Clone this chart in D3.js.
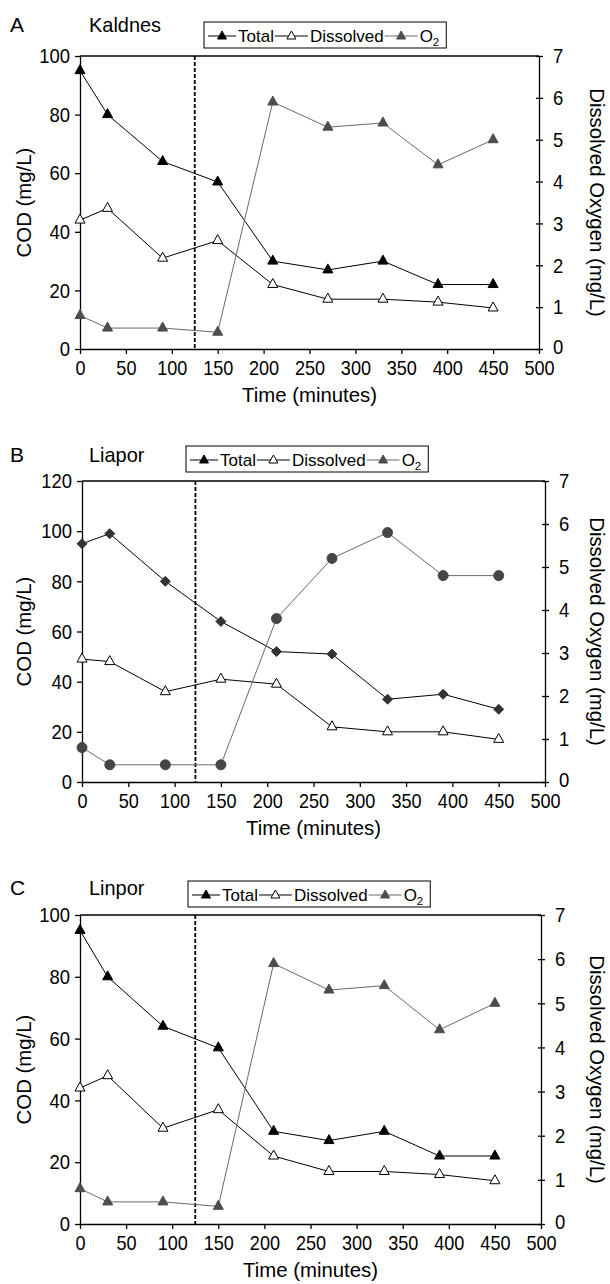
<!DOCTYPE html>
<html>
<head>
<meta charset="utf-8">
<script src="https://cdn.jsdelivr.net/npm/d3@7"></script>
<style>
body { margin: 0; background: #fff; }
svg { display: block; font-family: "Liberation Sans", Arial, sans-serif; }
.axis path, .axis line { stroke: #000; stroke-width: 1.3px; }
.axis text { font-size: 21px; fill: #000; }
</style>
</head>
<body>
<svg id="chart" width="610" height="1284"></svg>
<script>
// sampling times (minutes)
var time = [0, 30, 90, 150, 210, 270, 330, 390, 450];

// A - Kaldnes
var kaldnesTotal = [95, 80, 64, 57, 30, 27, 30, 22, 22];
var kaldnesDissolved = [44, 48, 31, 37, 22, 17, 17, 16, 14];
var kaldnesO2 = [0.8, 0.5, 0.5, 0.4, 5.9, 5.3, 5.4, 4.4, 5.0];

// B - Liapor
var liaporTotal = [95, 99, 80, 64, 52, 51, 33, 35, 29];
var liaporDissolved = [49, 48, 36, 41, 39, 22, 20, 20, 17];
var liaporO2 = [0.8, 0.4, 0.4, 0.4, 3.8, 5.2, 5.8, 4.8, 4.8];

// C - Linpor
var linporTotal = [95, 80, 64, 57, 30, 27, 30, 22, 22];
var linporDissolved = [44, 48, 31, 37, 22, 17, 17, 16, 14];
var linporO2 = [0.8, 0.5, 0.5, 0.4, 5.9, 5.3, 5.4, 4.4, 5.0];

var panelLetters = ["A", "B", "C"];
var panelNames = ["Kaldnes", "Liapor", "Linpor"];
var switchTimes = [125, 122.5, 125];
var codMax = [100, 120, 100];
var timeTicks = [0, 50, 100, 150, 200, 250, 300, 350, 400, 450, 500];
var oxygenTicks = [0, 1, 2, 3, 4, 5, 6, 7];
var legendLabels = ["Total", "Dissolved", "O"];

var panelData = [
  [kaldnesTotal, kaldnesDissolved, kaldnesO2],
  [liaporTotal, liaporDissolved, liaporO2],
  [linporTotal, linporDissolved, linporO2]
];

// geometry + marker styles
var layout = [
  {top: 56, bottom: 349, left: 80, right: 539, titleY: 32, legendX: 204, legendY: 22, marks: ["tri", "tri", "tri"]},
  {top: 481, bottom: 782, left: 82, right: 545, titleY: 462, legendX: 186, legendY: 446, marks: ["diamond", "tri", "circle"]},
  {top: 915, bottom: 1224, left: 80, right: 541, titleY: 895, legendX: 188, legendY: 881, marks: ["tri", "tri", "tri"]}
];

var seriesStyle = [
  {line: "#000", fill: "#000", stroke: "#000"},
  {line: "#000", fill: "#fff", stroke: "#000"},
  {line: "#6a6a6a", fill: "#4d4d4d", stroke: "#4d4d4d"}
];

var shapes = {
  tri: "M0,-6L5,3L-5,3Z",
  diamond: "M0,-5L5,0L0,5L-5,0Z",
  circle: "M5,0A5,5 0 1,1 -5,0A5,5 0 1,1 5,0Z",
  legendTri: "M0,-5L4.5,3L-4.5,3Z"
};

// the original type is a little narrower than Arial
function squeeze(sel, k) {
  sel.each(function () {
    var w = this.getComputedTextLength();
    d3.select(this).attr("textLength", w * k).attr("lengthAdjust", "spacingAndGlyphs");
  });
}

var svg = d3.select("#chart");

panelData.forEach(function (series, p) {
  var L = layout[p];
  var g = svg.append("g");

  var x = d3.scaleLinear().domain([0, 500]).range([L.left, L.right]);
  var yL = d3.scaleLinear().domain([0, codMax[p]]).range([L.bottom, L.top]);
  var yR = d3.scaleLinear().domain([0, 7]).range([L.bottom, L.top]);

  // top frame line
  g.append("line")
      .attr("x1", L.left).attr("x2", L.right)
      .attr("y1", L.top).attr("y2", L.top)
      .attr("stroke", "#000").attr("stroke-width", 1.3);

  var bottom = g.append("g").attr("class", "axis")
      .attr("transform", "translate(0," + L.bottom + ")")
      .call(d3.axisBottom(x).tickValues(timeTicks).tickSize(5).tickPadding(6).tickSizeOuter(0));

  var left = g.append("g").attr("class", "axis")
      .attr("transform", "translate(" + L.left + ",0)")
      .call(d3.axisLeft(yL).tickValues(d3.range(0, codMax[p] + 1, 20)).tickSize(5).tickPadding(5).tickSizeOuter(0));

  var right = g.append("g").attr("class", "axis")
      .attr("transform", "translate(" + L.right + ",0)")
      .call(d3.axisRight(yR).tickValues(oxygenTicks).tickFormat(d3.format("d"))
        .tickSize(4).tickPadding(10).tickSizeOuter(0));
  right.selectAll(".tick line").attr("x1", -3);
  // lift the right-hand zero a touch clear of the "500" label
  right.selectAll(".tick text").filter(function (d) { return d === 0; }).attr("dy", "0.2em");

  squeeze(bottom.selectAll("text"), 0.86);
  squeeze(left.selectAll("text"), 0.88);
  squeeze(right.selectAll("text"), 0.88);

  // aeration switch
  g.append("line")
      .attr("x1", x(switchTimes[p])).attr("x2", x(switchTimes[p]))
      .attr("y1", L.top).attr("y2", L.bottom)
      .attr("stroke", "#000").attr("stroke-width", 1.8)
      .attr("stroke-dasharray", "4,2");

  series.forEach(function (vals, s) {
    var y = s === 2 ? yR : yL;
    var st = seriesStyle[s];
    var pts = vals.map(function (v, i) { return [x(time[i]), y(v)]; });
    g.append("path")
        .attr("d", d3.line()(pts))
        .attr("fill", "none")
        .attr("stroke", st.line)
        .attr("stroke-width", 1);
    var mfill = st.fill, mstroke = st.stroke;
    if (p === 1 && s === 0) { mfill = "#333"; mstroke = "#333"; }
    if (p === 1 && s === 2) { mfill = "#454545"; mstroke = "#454545"; }
    g.selectAll(null).data(pts).enter().append("path")
        .attr("transform", function (d) { return "translate(" + d[0] + "," + d[1] + ")"; })
        .attr("d", shapes[L.marks[s]])
        .attr("fill", mfill)
        .attr("stroke", mstroke)
        .attr("stroke-width", 1);
  });

  // titles
  g.append("text").attr("x", 10).attr("y", L.titleY)
      .attr("font-size", 21).text(panelLetters[p]);
  squeeze(g.append("text").attr("x", 89).attr("y", L.titleY)
      .attr("font-size", 21).text(panelNames[p]), 0.95);

  // axis titles
  var titles = g.append("g").attr("font-size", 21).attr("text-anchor", "middle");
  titles.append("text")
      .attr("transform", "translate(" + ((L.left + L.right) / 2) + "," + (L.bottom + 53) + ")")
      .text("Time (minutes)");
  titles.append("text")
      .attr("transform", "translate(24," + ((L.top + L.bottom) / 2) + ") rotate(-90)")
      .attr("dy", "0.35em")
      .text("COD (mg/L)");
  titles.append("text")
      .attr("transform", "translate(597," + ((L.top + L.bottom) / 2) + ") rotate(90)")
      .attr("dy", "0.35em")
      .text("Dissolved Oxygen (mg/L)");
  squeeze(titles.selectAll("text"), 0.97);

  // legend
  var lg = g.append("g").attr("transform", "translate(" + L.legendX + "," + L.legendY + ")");
  var box = lg.append("rect").attr("x", 0).attr("y", 0).attr("height", 26)
      .attr("fill", "#fff").attr("stroke", "#000").attr("stroke-width", 1);
  var cx = 4;
  legendLabels.forEach(function (lab, s) {
    var st = seriesStyle[s];
    var segW = s === 0 ? 28 : 33;
    lg.append("line").attr("x1", cx).attr("x2", cx + segW).attr("y1", 14).attr("y2", 14)
        .attr("stroke", st.line).attr("stroke-width", 1);
    lg.append("path").attr("transform", "translate(" + (cx + segW / 2) + ",14)")
        .attr("d", shapes.legendTri).attr("fill", st.fill).attr("stroke", st.stroke);
    cx += segW + 2;
    var t = lg.append("text").attr("x", cx).attr("y", 19.5).attr("font-size", 17).text(lab);
    if (s === 2) {
      t.append("tspan").attr("font-size", 11.5).attr("dy", 4).text("2");
    }
    cx += t.node().getComputedTextLength() + 1;
  });
  box.attr("width", cx + 6);
});
</script>
</body>
</html>
